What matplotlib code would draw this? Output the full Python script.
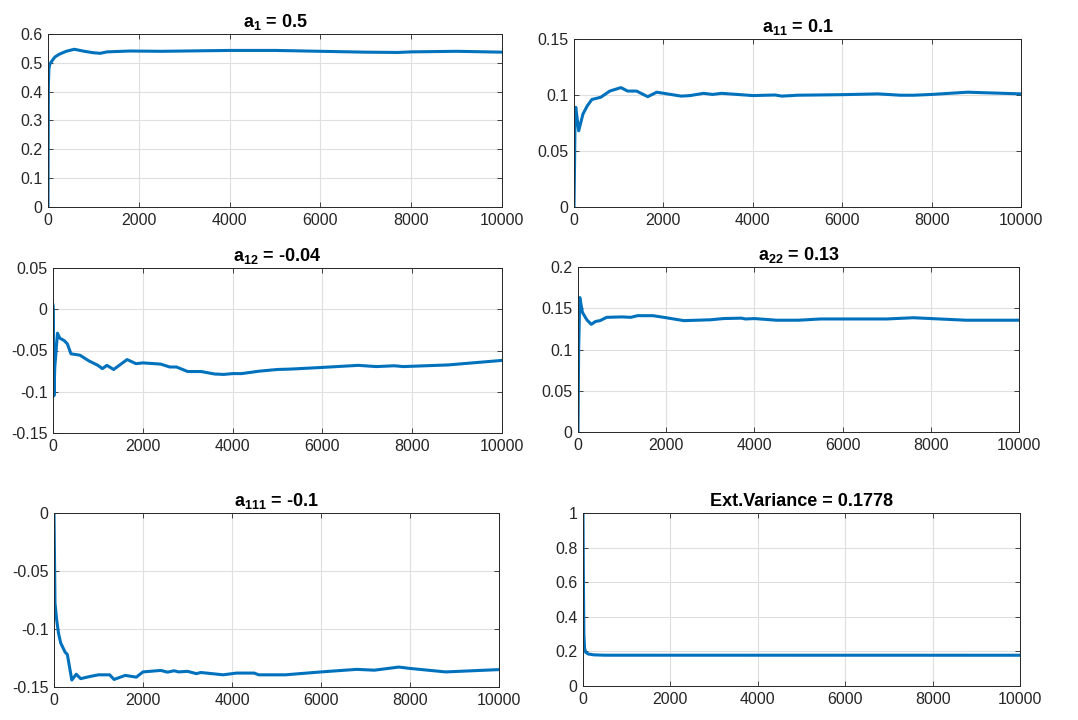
import numpy as np
import matplotlib
matplotlib.use('Agg')
import matplotlib.pyplot as plt
from matplotlib.ticker import FuncFormatter

plt.rcParams['font.family'] = ['Liberation Sans', 'DejaVu Sans']
plt.rcParams['mathtext.fontset'] = 'custom'
plt.rcParams['mathtext.rm'] = 'Liberation Sans'
plt.rcParams['mathtext.bf'] = 'Liberation Sans:bold'

# a1
x_a1 = [0, 8, 20, 40, 80, 150, 250, 400, 580, 800, 1000, 1150, 1300, 1800, 2500, 3000, 4000, 5000, 6000, 7000, 7700, 8000, 9000, 10000]
y_a1 = [0, 0.42, 0.48, 0.495, 0.505, 0.52, 0.53, 0.54, 0.547, 0.54, 0.535, 0.533, 0.538, 0.541, 0.54, 0.541, 0.543, 0.543, 0.54, 0.537, 0.536, 0.538, 0.54, 0.537]

# a11
x_a11 = [0, 10, 25, 40, 105, 200, 300, 400, 600, 800, 1050, 1200, 1400, 1650, 1850, 2400, 2600, 2900, 3100, 3300, 4000, 4500, 4650, 5000, 6000, 6800, 7300, 7600, 8000, 8800, 10000]
y_a11 = [0, 0.03, 0.085, 0.089, 0.068, 0.083, 0.0905, 0.096, 0.098, 0.1035, 0.1066, 0.1035, 0.1035, 0.0985, 0.1025, 0.099, 0.0995, 0.1015, 0.1005, 0.1015, 0.0995, 0.1, 0.099, 0.0998, 0.1003, 0.101, 0.0998, 0.0998, 0.1005, 0.1025, 0.101]

# a12
x_a12 = [0, 8, 20, 40, 100, 150, 250, 320, 400, 600, 800, 1000, 1100, 1200, 1350, 1500, 1650, 1850, 2000, 2400, 2600, 2750, 3000, 3300, 3600, 3800, 4000, 4200, 4600, 5000, 5300, 6000, 6800, 7200, 7600, 7800, 8800, 10000]
y_a12 = [0.005, 0.0, -0.105, -0.07, -0.029, -0.035, -0.038, -0.042, -0.054, -0.0557, -0.0626, -0.068, -0.072, -0.068, -0.073, -0.067, -0.061, -0.066, -0.065, -0.0665, -0.07, -0.07, -0.0755, -0.0755, -0.0785, -0.079, -0.078, -0.078, -0.075, -0.073, -0.0725, -0.0705, -0.068, -0.0695, -0.0685, -0.0695, -0.0675, -0.062]

# a22
x_a22 = [0, 15, 40, 100, 200, 300, 400, 500, 650, 1000, 1200, 1350, 1700, 2000, 2400, 2700, 3000, 3300, 3700, 3800, 4000, 4500, 5000, 5500, 6000, 7000, 7600, 8000, 8800, 10000]
y_a22 = [0, 0.1, 0.163, 0.145, 0.136, 0.1305, 0.134, 0.135, 0.139, 0.1395, 0.139, 0.141, 0.141, 0.1385, 0.135, 0.1355, 0.136, 0.1375, 0.138, 0.137, 0.1375, 0.1355, 0.1355, 0.137, 0.137, 0.137, 0.1385, 0.1375, 0.1355, 0.1355]

# a111
x_a111 = [0, 10, 22, 60, 100, 150, 250, 300, 400, 500, 600, 800, 1000, 1250, 1350, 1600, 1850, 2000, 2400, 2550, 2700, 2800, 3000, 3200, 3300, 3800, 4100, 4500, 4600, 5200, 6000, 6800, 7200, 7750, 8000, 8800, 10000]
y_a111 = [0, -0.034, -0.0776, -0.092, -0.1034, -0.112, -0.12, -0.122, -0.144, -0.139, -0.1428, -0.141, -0.1395, -0.1395, -0.1435, -0.14, -0.1415, -0.137, -0.1357, -0.1372, -0.136, -0.137, -0.1365, -0.1385, -0.1375, -0.1395, -0.138, -0.138, -0.1395, -0.1395, -0.137, -0.1348, -0.1355, -0.1328, -0.134, -0.137, -0.135]

# Ext.Variance
x_var = [0, 10, 20, 35, 60, 120, 250, 500, 10000]
y_var = [1.0, 0.6, 0.3, 0.22, 0.195, 0.185, 0.18, 0.178, 0.1778]

titles = [r'$\mathbf{a_{1}}$ = 0.5', r'$\mathbf{a_{11}}$ = 0.1', r'$\mathbf{a_{12}}$ = -0.04',
          r'$\mathbf{a_{22}}$ = 0.13', r'$\mathbf{a_{111}}$ = -0.1', 'Ext.Variance = 0.1778']
series = [(x_a1, y_a1), (x_a11, y_a11), (x_a12, y_a12), (x_a22, y_a22), (x_a111, y_a111), (x_var, y_var)]
ylims = [(0, 0.6), (0, 0.15), (-0.15, 0.05), (0, 0.2), (-0.15, 0), (0, 1)]
ysteps = [0.1, 0.05, 0.05, 0.05, 0.05, 0.2]

W, H = 1078, 720
# axes boxes in pixels: left, top, right, bottom
boxes = [(48, 34, 502, 207), (574, 39, 1021, 207),
         (53, 268, 502, 433), (578, 267, 1019, 432),
         (54, 513, 499, 687), (583, 513, 1020, 686)]

fig = plt.figure(figsize=(W / 100, H / 100), dpi=100)
fig.patch.set_facecolor('white')

def fmt(v, pos):
    s = '%g' % round(v, 6)
    return '0' if s == '-0' else s

for i in range(6):
    l, t, r, b = boxes[i]
    ax = fig.add_axes([l / W, 1 - b / H, (r - l) / W, (b - t) / H])
    x, y = series[i]
    ax.plot(x, y, color='#0072BD', linewidth=2.2)
    ax.set_xlim(0, 10000)
    ax.set_ylim(*ylims[i])
    ax.set_xticks(np.arange(0, 10001, 2000))
    lo, hi = ylims[i]
    ax.set_yticks(np.arange(lo, hi + ysteps[i] / 2, ysteps[i]))
    ax.yaxis.set_major_formatter(FuncFormatter(fmt))
    ax.grid(True, color='#DFDFDF', linewidth=0.8)
    ax.set_axisbelow(True)
    ax.tick_params(direction='in', top=True, right=True, length=3.5, width=0.6,
                   colors='#262626', labelsize=11.5, pad=4)
    for sp in ax.spines.values():
        sp.set_color('#262626')
        sp.set_linewidth(0.7)
    ax.set_title(titles[i], fontsize=13, fontweight='bold', pad=5)

fig.savefig('out.png', dpi=100)
